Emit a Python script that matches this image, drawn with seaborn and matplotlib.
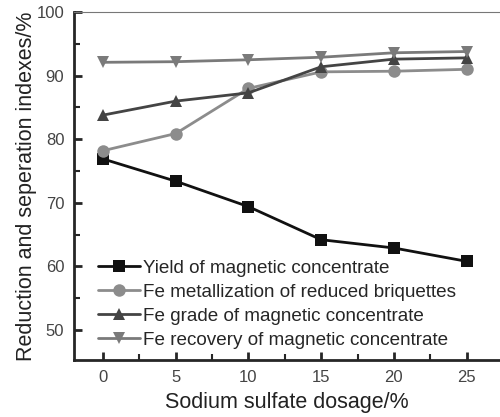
import numpy as np
import pandas as pd
import matplotlib
matplotlib.use("Agg")
import matplotlib.pyplot as plt
import seaborn as sns
from matplotlib.ticker import MultipleLocator

# data
dosage = [0, 5, 10, 15, 20, 25]
yield_conc = [76.9, 73.4, 69.4, 64.2, 62.9, 60.8]
metallization = [78.2, 80.9, 88.0, 90.6, 90.7, 91.0]
fe_grade = [83.8, 86.0, 87.3, 91.4, 92.6, 92.8]
fe_recovery = [92.1, 92.2, 92.5, 92.9, 93.6, 93.8]

series_names = ["Yield of magnetic concentrate",
                "Fe metallization of reduced briquettes",
                "Fe grade of magnetic concentrate",
                "Fe recovery of magnetic concentrate"]

df = pd.DataFrame({
    "dosage": dosage * 4,
    "value": yield_conc + metallization + fe_grade + fe_recovery,
    "series": np.repeat(series_names, len(dosage)),
})

sns.set_style("ticks")
plt.rcParams["font.family"] = ["Liberation Sans", "DejaVu Sans"]

fig, ax = plt.subplots(figsize=(5, 4.17), dpi=100)
fig.subplots_adjust(left=0.148, right=1.0, top=0.971, bottom=0.137)

palette = {series_names[0]: "#111111", series_names[1]: "#8c8c8c",
           series_names[2]: "#444444", series_names[3]: "#7a7a7a"}
markers = {series_names[0]: "s", series_names[1]: "o",
           series_names[2]: "^", series_names[3]: "v"}

sns.lineplot(data=df, x="dosage", y="value", hue="series", style="series",
             palette=palette, markers=markers, dashes=False, markersize=9,
             linewidth=2, markeredgewidth=0, ax=ax)

ax.set_xlim(-2, 27.3)
ax.set_ylim(45.3, 100)
ax.xaxis.set_major_locator(MultipleLocator(5))
ax.xaxis.set_minor_locator(MultipleLocator(2.5))
ax.yaxis.set_major_locator(MultipleLocator(10))
ax.yaxis.set_minor_locator(MultipleLocator(5))
ax.set_yticks([50, 60, 70, 80, 90, 100])
ax.tick_params(which="major", direction="in", length=6, width=2, pad=7,
               labelsize=12, labelcolor="#444444")
ax.tick_params(which="minor", direction="in", length=4, width=1.5)
for side in ["left", "bottom"]:
    ax.spines[side].set_linewidth(2)
ax.spines["top"].set_color("#777777")
ax.spines["right"].set_visible(False)

ax.set_xlabel("Sodium sulfate dosage/%", fontsize=15.5, color="#222222",
              labelpad=5)
ax.set_ylabel("Reduction and seperation indexes/%", fontsize=15.5,
              color="#222222", labelpad=0)

ax.legend(loc="lower left", bbox_to_anchor=(0.03, 0.0), frameon=False,
          fontsize=13.6, handlelength=2.2, handletextpad=0.2,
          labelspacing=0.35, borderaxespad=0.2)

fig.savefig("out.png", dpi=100)
